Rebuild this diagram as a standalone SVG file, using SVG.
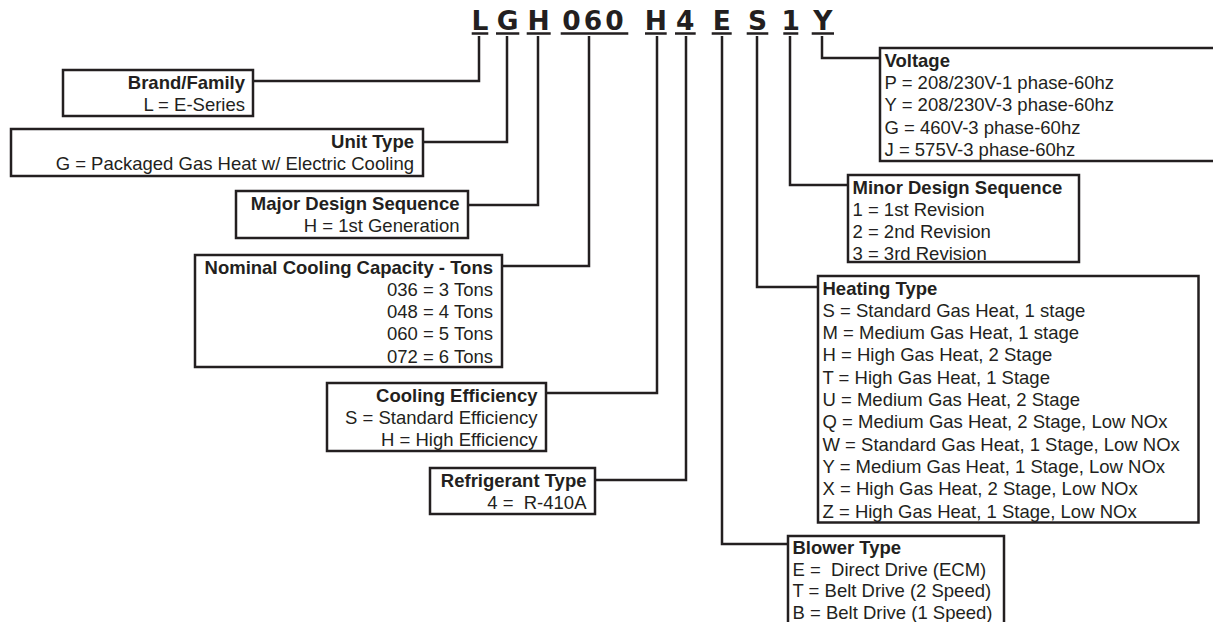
<svg xmlns="http://www.w3.org/2000/svg" width="1213" height="622" viewBox="0 0 1213 622">
<style>
.bg{fill:#ffffff}
.box{fill:#ffffff;stroke:#231f20;stroke-width:2.5}
.ln{fill:none;stroke:#231f20;stroke-width:2.5}
.ul{fill:none;stroke:#231f20;stroke-width:2.6}
.code{font-family:"DejaVu Sans",sans-serif;font-weight:bold;font-size:26.5px;fill:#231f20;text-anchor:middle}
.t{font-family:"Liberation Sans",Arial,sans-serif;font-size:18.5px;fill:#231f20;white-space:pre}
.h{font-weight:bold}
.r{text-anchor:end}
</style>
<rect class="bg" x="0" y="0" width="1213" height="622"/>

<g id="code">
<text class="code" x="480" y="29.5">L</text>
<text class="code" x="507.7" y="29.5">G</text>
<text class="code" x="538.7" y="29.5">H</text>
<text class="code" x="594.5" y="29.5" letter-spacing="3">060</text>
<text class="code" x="655.8" y="29.5">H</text>
<text class="code" x="685.3" y="29.5">4</text>
<text class="code" x="721.7" y="29.5">E</text>
<text class="code" x="757.5" y="29.5">S</text>
<text class="code" x="790.8" y="29.5">1</text>
<text class="code" x="822.8" y="29.5">Y</text>
<path class="ul" d="M471.7 33.5H488.3M496 33.5H519.3M526.7 33.5H550.7M560.7 33.5H628.3M645 33.5H666.7M675 33.5H695.7M711.7 33.5H731.7M746.7 33.5H768.3M783.3 33.5H798.3M811.7 33.5H834"/>
</g>

<g id="connectors">
<path class="ln" d="M479 36V81H253"/>
<path class="ln" d="M507 36V142H423"/>
<path class="ln" d="M538 36V205H468"/>
<path class="ln" d="M589 36V266H502"/>
<path class="ln" d="M657 36V393H546"/>
<path class="ln" d="M686 36V480H595"/>
<path class="ln" d="M722 36V544H788"/>
<path class="ln" d="M757 36V287H818"/>
<path class="ln" d="M790 36V185H848"/>
<path class="ln" d="M822 36V58H880"/>
</g>

<g id="brand">
<rect class="box" x="63" y="70" width="190" height="46"/>
<text class="t h r" x="245" y="88.5">Brand/Family</text>
<text class="t r" x="245" y="110.8">L = E-Series</text>
</g>

<g id="unit-type">
<rect class="box" x="11" y="129" width="412" height="47"/>
<text class="t h r" x="414" y="147.5">Unit Type</text>
<text class="t r" x="414" y="169.8">G = Packaged Gas Heat w/ Electric Cooling</text>
</g>

<g id="major-design">
<rect class="box" x="236" y="191" width="232" height="47"/>
<text class="t h r" x="459.5" y="209.5">Major Design Sequence</text>
<text class="t r" x="459.5" y="231.8">H = 1st Generation</text>
</g>

<g id="nominal-capacity">
<rect class="box" x="195" y="255" width="307" height="112"/>
<text class="t h r" x="493" y="273.5">Nominal Cooling Capacity - Tons</text>
<text class="t r" x="493" y="295.8">036 = 3 Tons</text>
<text class="t r" x="493" y="318.1">048 = 4 Tons</text>
<text class="t r" x="493" y="340.4">060 = 5 Tons</text>
<text class="t r" x="493" y="362.7">072 = 6 Tons</text>
</g>

<g id="cooling-efficiency">
<rect class="box" x="327" y="383" width="219" height="68"/>
<text class="t h r" x="537.5" y="401.5">Cooling Efficiency</text>
<text class="t r" x="537.5" y="423.8">S = Standard Efficiency</text>
<text class="t r" x="537.5" y="446.1">H = High Efficiency</text>
</g>

<g id="refrigerant">
<rect class="box" x="430" y="468" width="165" height="46"/>
<text class="t h r" x="586.5" y="486.5">Refrigerant Type</text>
<text class="t r" x="586.5" y="508.8">4 =  R-410A</text>
</g>

<g id="voltage">
<rect class="box" x="880" y="48" width="345" height="113"/>
<text class="t h" x="884.5" y="66.7">Voltage</text>
<text class="t" x="884.5" y="89">P = 208/230V-1 phase-60hz</text>
<text class="t" x="884.5" y="111.3">Y = 208/230V-3 phase-60hz</text>
<text class="t" x="884.5" y="133.6">G = 460V-3 phase-60hz</text>
<text class="t" x="884.5" y="155.9">J = 575V-3 phase-60hz</text>
</g>

<g id="minor-design">
<rect class="box" x="848" y="175" width="231" height="87"/>
<text class="t h" x="852.5" y="193.5">Minor Design Sequence</text>
<text class="t" x="852.5" y="215.8">1 = 1st Revision</text>
<text class="t" x="852.5" y="238.1">2 = 2nd Revision</text>
<text class="t" x="852.5" y="260.4">3 = 3rd Revision</text>
</g>

<g id="heating-type">
<rect class="box" x="818" y="276" width="380.5" height="246.5"/>
<text class="t h" x="822.5" y="294.5">Heating Type</text>
<text class="t" x="822.5" y="316.8">S = Standard Gas Heat, 1 stage</text>
<text class="t" x="822.5" y="339.1">M = Medium Gas Heat, 1 stage</text>
<text class="t" x="822.5" y="361.4">H = High Gas Heat, 2 Stage</text>
<text class="t" x="822.5" y="383.7">T = High Gas Heat, 1 Stage</text>
<text class="t" x="822.5" y="406">U = Medium Gas Heat, 2 Stage</text>
<text class="t" x="822.5" y="428.3">Q = Medium Gas Heat, 2 Stage, Low NOx</text>
<text class="t" x="822.5" y="450.6">W = Standard Gas Heat, 1 Stage, Low NOx</text>
<text class="t" x="822.5" y="472.9">Y = Medium Gas Heat, 1 Stage, Low NOx</text>
<text class="t" x="822.5" y="495.2">X = High Gas Heat, 2 Stage, Low NOx</text>
<text class="t" x="822.5" y="517.5">Z = High Gas Heat, 1 Stage, Low NOx</text>
</g>

<g id="blower-type">
<rect class="box" x="788" y="536" width="216" height="95"/>
<text class="t h" x="792.5" y="553.5">Blower Type</text>
<text class="t" x="792.5" y="575.5">E =  Direct Drive (ECM)</text>
<text class="t" x="792.5" y="597.3">T = Belt Drive (2 Speed)</text>
<text class="t" x="792.5" y="618.5">B = Belt Drive (1 Speed)</text>
</g>
</svg>
